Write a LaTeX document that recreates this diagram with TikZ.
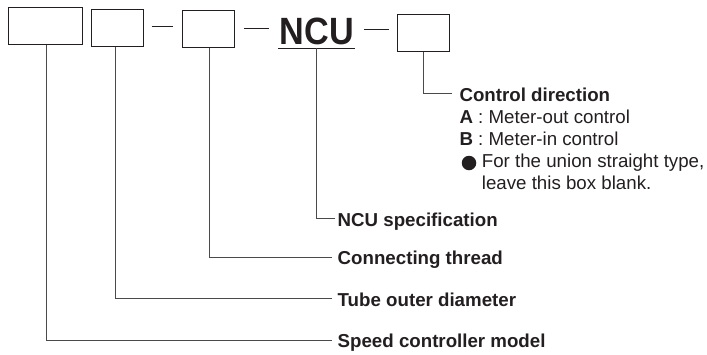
\documentclass[tikz,border=0pt]{standalone}
\usepackage{fontspec}
\setmainfont{Liberation Sans}
\usepackage{graphicx}
\definecolor{ink}{HTML}{231F20}
\definecolor{wire}{HTML}{4A4A4A}
\tikzset{
  codebox/.style={draw=ink,line width=1.1pt,minimum width=#1,minimum height=37pt,inner sep=0pt,anchor=north west},
  lbl/.style={anchor=base west,inner sep=0pt,text=ink,font=\fontsize{18.7}{22}\selectfont},
  blbl/.style={lbl,font=\fontsize{18.7}{22}\selectfont\bfseries},
  wireline/.style={draw=wire,line width=0.9pt},
  sep/.style={draw=ink,line width=0.9pt},
}
\begin{document}
\begin{tikzpicture}[x=1pt,y=-1pt]
\useasboundingbox (0,0) rectangle (707,354);
% boxes
\node[codebox=74pt] (b1) at (8.3,7.3) {};
\node[codebox=52pt] (b2) at (91.3,8.7) {};
\node[codebox=52pt] (b3) at (182.3,10) {};
\node[codebox=52pt] (b4) at (397.3,13.6) {};
\node[anchor=base,inner sep=0pt,text=ink,font=\fontsize{38}{40}\selectfont\bfseries] (ncu) at (316.7,44.7) {\scalebox{0.9}[1]{NCU}};
% separators
\draw[sep] (151.7,26.7) -- (173.3,26.7);
\draw[sep] (244.3,28.3) -- (269.3,28.3);
\draw[sep] (364,29.3) -- (389,29.3);
% underline
\coordinate (ul) at (278,48.3);
\coordinate (ur) at (355,48.3);
\coordinate (nu) at (316.7,48.3);
\draw[sep] (ul) -- (ur);
% labels
\node[blbl] (t4) at (459.3,101) {Control direction};
\node[lbl] (a) at (459.3,123.3) {\textbf{A} : Meter-out control};
\node[lbl] (b) at (459.3,145.4) {\textbf{B} : Meter-in control};
\node[circle,fill=ink,inner sep=0pt,minimum size=14.5pt] (dot) at (469,163) {};
\node[lbl] (c1) at (481.7,167.6) {For the union straight type,};
\node[lbl] (c2) at (481.7,189.7) {leave this box blank.};
\node[blbl] (t3) at (337.5,226) {NCU specification};
\node[blbl] (t2) at (337.5,264.3) {Connecting thread};
\node[blbl] (t1) at (337.5,306) {Tube outer diameter};
\node[blbl] (t0) at (337.5,347.7) {Speed controller model};
% connectors
\draw[wireline] (b4.south) |- ([xshift=-7.5pt,yshift=7.2pt]t4.base west);
\draw[wireline] (nu) |- ([xshift=-2.5pt,yshift=8pt]t3.base west);
\draw[wireline] ([xshift=0.7pt]b3.south) |- ([xshift=-6pt,yshift=7.2pt]t2.base west);
\draw[wireline] ([xshift=-2.3pt]b2.south) |- ([xshift=-6pt,yshift=7.7pt]t1.base west);
\draw[wireline] ([xshift=0.4pt]b1.south) |- ([xshift=-6pt,yshift=7.7pt]t0.base west);
\end{tikzpicture}
\end{document}
